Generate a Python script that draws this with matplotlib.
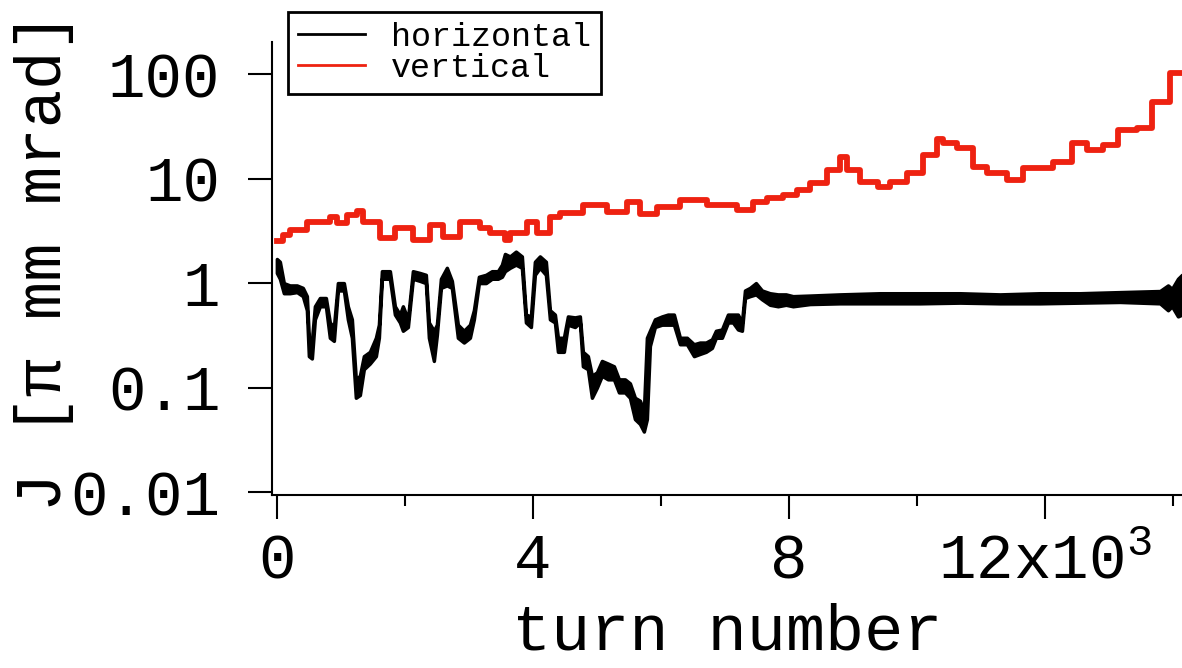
import matplotlib
matplotlib.use('Agg')
import matplotlib.pyplot as plt
from matplotlib.lines import Line2D
from matplotlib.ticker import NullLocator

# fonts: courier-like mono everywhere
plt.rcParams['font.family'] = 'Liberation Mono'
plt.rcParams['mathtext.fontset'] = 'custom'
plt.rcParams['mathtext.rm'] = 'Liberation Mono'

RED = '#ee2211'

# horizontal action J (envelope of the fast oscillation)
h_turn = [0, 47, 109, 203, 313, 406, 469, 500, 547, 594,
          672, 766, 828, 891, 953, 1047, 1109, 1172, 1234, 1297,
          1359, 1453, 1547, 1594, 1641, 1766, 1844, 1922, 1969, 2047,
          2125, 2234, 2328, 2375, 2453, 2500, 2563, 2656, 2734, 2828,
          2922, 3016, 3078, 3156, 3266, 3359, 3453, 3516, 3563, 3641,
          3734, 3828, 3891, 3969, 4031, 4109, 4203, 4266, 4344, 4391,
          4484, 4547, 4656, 4734, 4781, 4859, 4922, 5000, 5078, 5172,
          5266, 5344, 5438, 5516, 5594, 5672, 5734, 5781, 5828, 5906,
          6016, 6109, 6203, 6297, 6406, 6516, 6609, 6703, 6797, 6859,
          6953, 7047, 7125, 7203, 7266, 7313, 7391, 7484, 7578, 7703,
          7828, 7953, 8063, 8328, 8797, 9422, 10047, 10672, 11297, 11922,
          12547, 13172, 13797, 13922, 13984, 14078, 14141]
h_low = [1.25, 1.10, 0.80, 0.80, 0.82, 0.75, 0.55, 0.20, 0.19, 0.45,
         0.60, 0.60, 0.30, 0.28, 0.85, 0.85, 0.45, 0.30, 0.08, 0.085,
         0.15, 0.17, 0.20, 0.30, 1.10, 1.10, 0.50, 0.42, 0.35, 0.38,
         1.10, 1.05, 1.00, 0.30, 0.18, 0.32, 0.90, 0.95, 0.90, 0.30,
         0.27, 0.30, 0.45, 1.00, 1.00, 1.10, 1.10, 1.15, 1.30, 1.40,
         1.50, 1.40, 0.42, 0.38, 1.20, 1.40, 1.20, 0.45, 0.42, 0.22,
         0.22, 0.40, 0.38, 0.42, 0.16, 0.15, 0.08, 0.10, 0.13, 0.12,
         0.12, 0.09, 0.09, 0.08, 0.05, 0.045, 0.038, 0.05, 0.25, 0.38,
         0.40, 0.40, 0.40, 0.26, 0.26, 0.20, 0.21, 0.22, 0.24, 0.30,
         0.30, 0.42, 0.42, 0.36, 0.35, 0.72, 0.75, 0.78, 0.70, 0.62,
         0.60, 0.62, 0.60, 0.63, 0.64, 0.64, 0.64, 0.65, 0.64, 0.64,
         0.65, 0.66, 0.64, 0.55, 0.60, 0.48, 0.50]
h_high = [1.70, 1.60, 1.00, 0.95, 0.95, 0.90, 0.75, 0.30, 0.28, 0.60,
          0.72, 0.72, 0.42, 0.38, 1.00, 1.00, 0.60, 0.45, 0.12, 0.13,
          0.20, 0.22, 0.30, 0.40, 1.30, 1.30, 0.60, 0.50, 0.60, 0.45,
          1.30, 1.25, 1.20, 0.42, 0.35, 0.40, 1.10, 1.40, 1.05, 0.40,
          0.35, 0.40, 0.55, 1.15, 1.20, 1.30, 1.30, 1.50, 1.90, 1.80,
          2.00, 1.80, 0.50, 0.48, 1.60, 1.80, 1.60, 0.55, 0.50, 0.30,
          0.30, 0.48, 0.47, 0.48, 0.22, 0.20, 0.13, 0.14, 0.18, 0.17,
          0.16, 0.12, 0.12, 0.11, 0.08, 0.075, 0.06, 0.30, 0.35, 0.45,
          0.48, 0.50, 0.50, 0.30, 0.30, 0.26, 0.27, 0.27, 0.29, 0.35,
          0.36, 0.50, 0.50, 0.50, 0.42, 0.85, 0.90, 1.00, 0.85, 0.80,
          0.78, 0.78, 0.75, 0.76, 0.78, 0.80, 0.80, 0.80, 0.78, 0.80,
          0.80, 0.82, 0.84, 0.95, 0.88, 1.10, 1.20]

# vertical action J (stepwise)
v_turn = [0, 100, 203, 469, 828, 938, 1094, 1250, 1344, 1609,
          1844, 2125, 2391, 2594, 2859, 3172, 3328, 3563, 3641, 3906,
          4063, 4266, 4422, 4781, 5156, 5469, 5672, 5938, 6297, 6719,
          7188, 7438, 7656, 7906, 8125, 8328, 8594, 8797, 8906, 9109,
          9391, 9578, 9844, 10094, 10313, 10406, 10625, 10875, 11094, 11406,
          11656, 12125, 12422, 12656, 12906, 13141, 13438, 13672, 13953, 14141]
v_J = [2.5, 2.9, 3.2, 3.8, 4.3, 3.75, 4.5, 4.9, 3.8, 2.7,
       3.4, 2.6, 3.6, 2.75, 3.8, 3.35, 3.0, 2.6, 3.0, 3.8,
       3.0, 4.3, 4.7, 5.6, 4.8, 6.0, 4.6, 5.3, 6.2, 5.6,
       5.0, 6.0, 6.5, 6.9, 7.8, 9.1, 12.1, 16.0, 12.1, 9.3,
       8.3, 9.3, 11.3, 16.8, 24.0, 22.0, 19.6, 12.9, 11.3, 9.7,
       12.6, 14.4, 21.9, 18.7, 20.9, 29.1, 30.4, 54.0, 102.0, 102.0]

x_ticks = [0, 4000, 8000, 12000]
x_ticklabels = ['0', '4', '8', r'12x10$^{\mathrm{3}}$']
x_minor = [2000, 6000, 10000, 14000]
y_ticks = [0.01, 0.1, 1, 10, 100]
y_ticklabels = ['0.01', '0.1', '1', '10', '100']

fig = plt.figure(figsize=(11.82, 6.68), dpi=100)
ax = fig.add_axes([0.230, 0.259, 0.770, 0.678])

ax.fill_between(h_turn, h_low, h_high, facecolor='black', edgecolor='black', lw=2.5)
ax.step(v_turn, v_J, where='post', color=RED, lw=4.2)

ax.set_yscale('log')
ax.set_ylim(0.0094, 202)
ax.set_xlim(-78, 14141)

ax.set_yticks(y_ticks)
ax.set_yticklabels(y_ticklabels)
ax.yaxis.set_minor_locator(NullLocator())
ax.set_xticks(x_ticks)
ax.set_xticklabels(x_ticklabels)
ax.set_xticks(x_minor, minor=True)

for s in ['top', 'right']:
    ax.spines[s].set_visible(False)
for s in ['left', 'bottom']:
    ax.spines[s].set_linewidth(1.5)

ax.tick_params(axis='both', which='major', direction='out', length=17, width=1.5, labelsize=45)
ax.tick_params(axis='x', which='minor', direction='out', length=8, width=1.5)
ax.tick_params(axis='y', pad=20)
ax.tick_params(axis='x', pad=10)

fig.text(44 / 1182, 1 - 262 / 668, 'J [π mm mrad]', rotation=90, fontsize=46,
         ha='center', va='center')
fig.text(727 / 1182, 18 / 668, 'turn number', fontsize=47, ha='center', va='baseline')

handles = [Line2D([], [], color='black', lw=2), Line2D([], [], color=RED, lw=2)]
leg = ax.legend(handles, ['horizontal', 'vertical'], loc='upper left',
                bbox_to_anchor=(288 / 1182, 1 - 12 / 668), bbox_transform=fig.transFigure,
                fontsize=24, frameon=True, fancybox=False, edgecolor='black', framealpha=1,
                borderpad=0.3, labelspacing=0.0, handlelength=2.0, handletextpad=0.8,
                borderaxespad=0)
leg.get_frame().set_linewidth(2)

fig.savefig('out.png', dpi=100)
